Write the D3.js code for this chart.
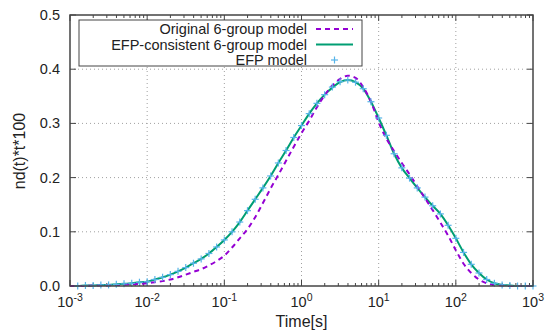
<!DOCTYPE html>
<html>
<head>
<meta charset="utf-8">
<script src="https://cdn.jsdelivr.net/npm/d3@7"></script>
<style>
	body { margin: 0; background: #fff; }
	text { font-family: "Liberation Sans", Arial, sans-serif; fill: #222; }
</style>
</head>
<body>
<svg id="chart" width="546" height="330"></svg>
<script>

// sampling grid, in decades of time (10^-3 .. 10^3 s)
var timeExp = d3.range(-3, 3.001, 0.1);

// EFP-consistent 6-group model
var consistentValues = [
	0.000, 0.000, 0.001, 0.001, 0.002, 0.002, 0.003, 0.004, 0.005, 0.007,
	0.008, 0.012, 0.016, 0.021, 0.027, 0.034, 0.042, 0.050, 0.060, 0.072,
	0.085, 0.100, 0.118, 0.139, 0.160, 0.181, 0.203, 0.227, 0.250, 0.274,
	0.296, 0.318, 0.337, 0.353, 0.366, 0.376, 0.380, 0.376, 0.364, 0.340,
	0.310, 0.278, 0.244, 0.218, 0.199, 0.181, 0.164, 0.148, 0.133, 0.112,
	0.088, 0.062, 0.040, 0.024, 0.012, 0.005, 0.002, 0.001, 0.000, 0.000,
	0.000
];

// original 6-group model
var originalValues = [
	0.000, 0.000, 0.000, 0.001, 0.001, 0.001, 0.002, 0.002, 0.003, 0.004,
	0.005, 0.007, 0.009, 0.012, 0.016, 0.021, 0.026, 0.031, 0.038, 0.046,
	0.056, 0.071, 0.088, 0.105, 0.127, 0.153, 0.180, 0.205, 0.231, 0.257,
	0.282, 0.305, 0.330, 0.352, 0.370, 0.382, 0.388, 0.384, 0.367, 0.340,
	0.302, 0.272, 0.249, 0.227, 0.206, 0.184, 0.162, 0.140, 0.117, 0.093,
	0.066, 0.041, 0.024, 0.012, 0.005, 0.002, 0.001, 0.000, 0.000, 0.000,
	0.000
];

// EFP model points (markers)
var efpExp = d3.range(-2.9, 3.001, 0.1);
var efpValues = [
	0.000, 0.001, 0.001, 0.002, 0.002, 0.003, 0.004, 0.005, 0.007,
	0.008, 0.012, 0.016, 0.021, 0.027, 0.034, 0.042, 0.050, 0.060, 0.072,
	0.085, 0.100, 0.118, 0.139, 0.160, 0.181, 0.203, 0.227, 0.250, 0.274,
	0.296, 0.318, 0.337, 0.353, 0.367, 0.377, 0.380, 0.376, 0.364, 0.340,
	0.310, 0.278, 0.244, 0.218, 0.199, 0.181, 0.164, 0.148, 0.133, 0.112,
	0.088, 0.062, 0.040, 0.024, 0.012, 0.005, 0.002, 0.001, 0.000, 0.000,
	0.000
];

var yTicks = [0, 0.1, 0.2, 0.3, 0.4, 0.5];
var xTickExp = [-3, -2, -1, 0, 1, 2, 3];

var legendLabels = ["Original 6-group model", "EFP-consistent 6-group model", "EFP model"];

var COLOR_ORIGINAL = "#9400d3";
var COLOR_CONSISTENT = "#009e73";
var COLOR_EFP = "#56b4e9";
var GRID_COLOR = "#a0a0a0";
var FRAME_COLOR = "#444";

var margin = { left: 70, right: 533, top: 15, bottom: 286 };

var svg = d3.select("#chart");

var x = d3.scaleLog().domain([1e-3, 1e3]).range([margin.left, margin.right]);
var y = d3.scaleLinear().domain([0, 0.5]).range([margin.bottom, margin.top]);

// grid
var grid = svg.append("g");
grid.selectAll("line.gx")
	.data(xTickExp.slice(1, -1))
	.enter().append("line")
	.attr("x1", function(e) { return x(Math.pow(10, e)); })
	.attr("x2", function(e) { return x(Math.pow(10, e)); })
	.attr("y1", margin.top).attr("y2", margin.bottom)
	.attr("stroke", GRID_COLOR).attr("stroke-width", 1)
	.attr("stroke-dasharray", "1,3");
grid.selectAll("line.gy")
	.data(yTicks.slice(1, -1))
	.enter().append("line")
	.attr("y1", function(v) { return y(v); })
	.attr("y2", function(v) { return y(v); })
	.attr("x1", margin.left).attr("x2", margin.right)
	.attr("stroke", GRID_COLOR).attr("stroke-width", 1)
	.attr("stroke-dasharray", "1,3");

// ticks: major + minor on bottom and top, pointing inward
var ticks = svg.append("g").attr("stroke", FRAME_COLOR).attr("stroke-width", 1);
xTickExp.forEach(function(e, i) {
	var px = x(Math.pow(10, e));
	ticks.append("line").attr("x1", px).attr("x2", px).attr("y1", margin.bottom).attr("y2", margin.bottom - 6);
	ticks.append("line").attr("x1", px).attr("x2", px).attr("y1", margin.top).attr("y2", margin.top + 6);
	if(i < xTickExp.length - 1) {
		for(var m = 2; m < 10; m++) {
			var mx = x(m * Math.pow(10, e));
			ticks.append("line").attr("x1", mx).attr("x2", mx).attr("y1", margin.bottom).attr("y2", margin.bottom - 3);
			ticks.append("line").attr("x1", mx).attr("x2", mx).attr("y1", margin.top).attr("y2", margin.top + 3);
		}
	}
});
yTicks.forEach(function(v) {
	ticks.append("line").attr("x1", margin.left).attr("x2", margin.left + 6).attr("y1", y(v)).attr("y2", y(v));
	ticks.append("line").attr("x1", margin.right).attr("x2", margin.right - 6).attr("y1", y(v)).attr("y2", y(v));
});

// tick labels
svg.append("g").selectAll("text")
	.data(yTicks)
	.enter().append("text")
	.attr("x", margin.left - 10)
	.attr("y", function(v) { return y(v) + 5; })
	.attr("text-anchor", "end")
	.style("font-size", "14.5px")
	.text(d3.format(".1f"));

var xl = svg.append("g").selectAll("text")
	.data(xTickExp)
	.enter().append("text")
	.attr("x", function(e) { return x(Math.pow(10, e)); })
	.attr("y", 307)
	.attr("text-anchor", "middle")
	.style("font-size", "14.5px");
xl.append("tspan").text("10");
xl.append("tspan").attr("dy", -6).style("font-size", "10.5px").text(function(e) { return e; });

// curves
var lineOf = function(exps) {
	return d3.line()
		.x(function(d, i) { return x(Math.pow(10, exps[i])); })
		.y(function(d) { return y(d); })
		.curve(d3.curveMonotoneX);
};

svg.append("path")
	.attr("d", lineOf(timeExp)(consistentValues))
	.attr("fill", "none")
	.attr("stroke", COLOR_CONSISTENT)
	.attr("stroke-width", 2);

svg.append("path")
	.attr("d", lineOf(timeExp)(originalValues))
	.attr("fill", "none")
	.attr("stroke", COLOR_ORIGINAL)
	.attr("stroke-width", 2)
	.attr("stroke-dasharray", "5,4");

var plus = function(g, px, py) {
	g.append("line").attr("x1", px - 3.5).attr("x2", px + 3.5).attr("y1", py).attr("y2", py);
	g.append("line").attr("x1", px).attr("x2", px).attr("y1", py - 3.5).attr("y2", py + 3.5);
};
var markers = svg.append("g").attr("stroke", COLOR_EFP).attr("stroke-width", 1.2);
efpValues.forEach(function(v, i) {
	plus(markers, x(Math.pow(10, efpExp[i])), y(v));
});

// frame
svg.append("rect")
	.attr("x", margin.left).attr("y", margin.top)
	.attr("width", margin.right - margin.left)
	.attr("height", margin.bottom - margin.top)
	.attr("fill", "none")
	.attr("stroke", FRAME_COLOR)
	.attr("stroke-width", 1.5);

// legend
var legend = svg.append("g");
legend.append("rect")
	.attr("x", 79).attr("y", 20).attr("width", 283).attr("height", 46)
	.attr("fill", "#fff").attr("stroke", FRAME_COLOR).attr("stroke-width", 1);
legendLabels.forEach(function(label, i) {
	var ly = 29 + i * 15.5;
	legend.append("text")
		.attr("x", 307).attr("y", ly + 5)
		.attr("text-anchor", "end")
		.style("font-size", "14.5px")
		.text(label);
	if(i === 0) {
		legend.append("line").attr("x1", 316).attr("x2", 353).attr("y1", ly).attr("y2", ly)
			.attr("stroke", COLOR_ORIGINAL).attr("stroke-width", 2).attr("stroke-dasharray", "5,4");
	} else if(i === 1) {
		legend.append("line").attr("x1", 316).attr("x2", 353).attr("y1", ly).attr("y2", ly)
			.attr("stroke", COLOR_CONSISTENT).attr("stroke-width", 2);
	} else {
		plus(legend.append("g").attr("stroke", COLOR_EFP).attr("stroke-width", 1.2), 334.5, ly);
	}
});

// axis titles
svg.append("text")
	.attr("x", x(1)).attr("y", 327)
	.attr("text-anchor", "middle")
	.style("font-size", "16px")
	.text("Time[s]");

svg.append("text")
	.attr("transform", "translate(25,151) rotate(-90)")
	.attr("text-anchor", "middle")
	.style("font-size", "16px")
	.text("nd(t)*t*100");

</script>
</body>
</html>
